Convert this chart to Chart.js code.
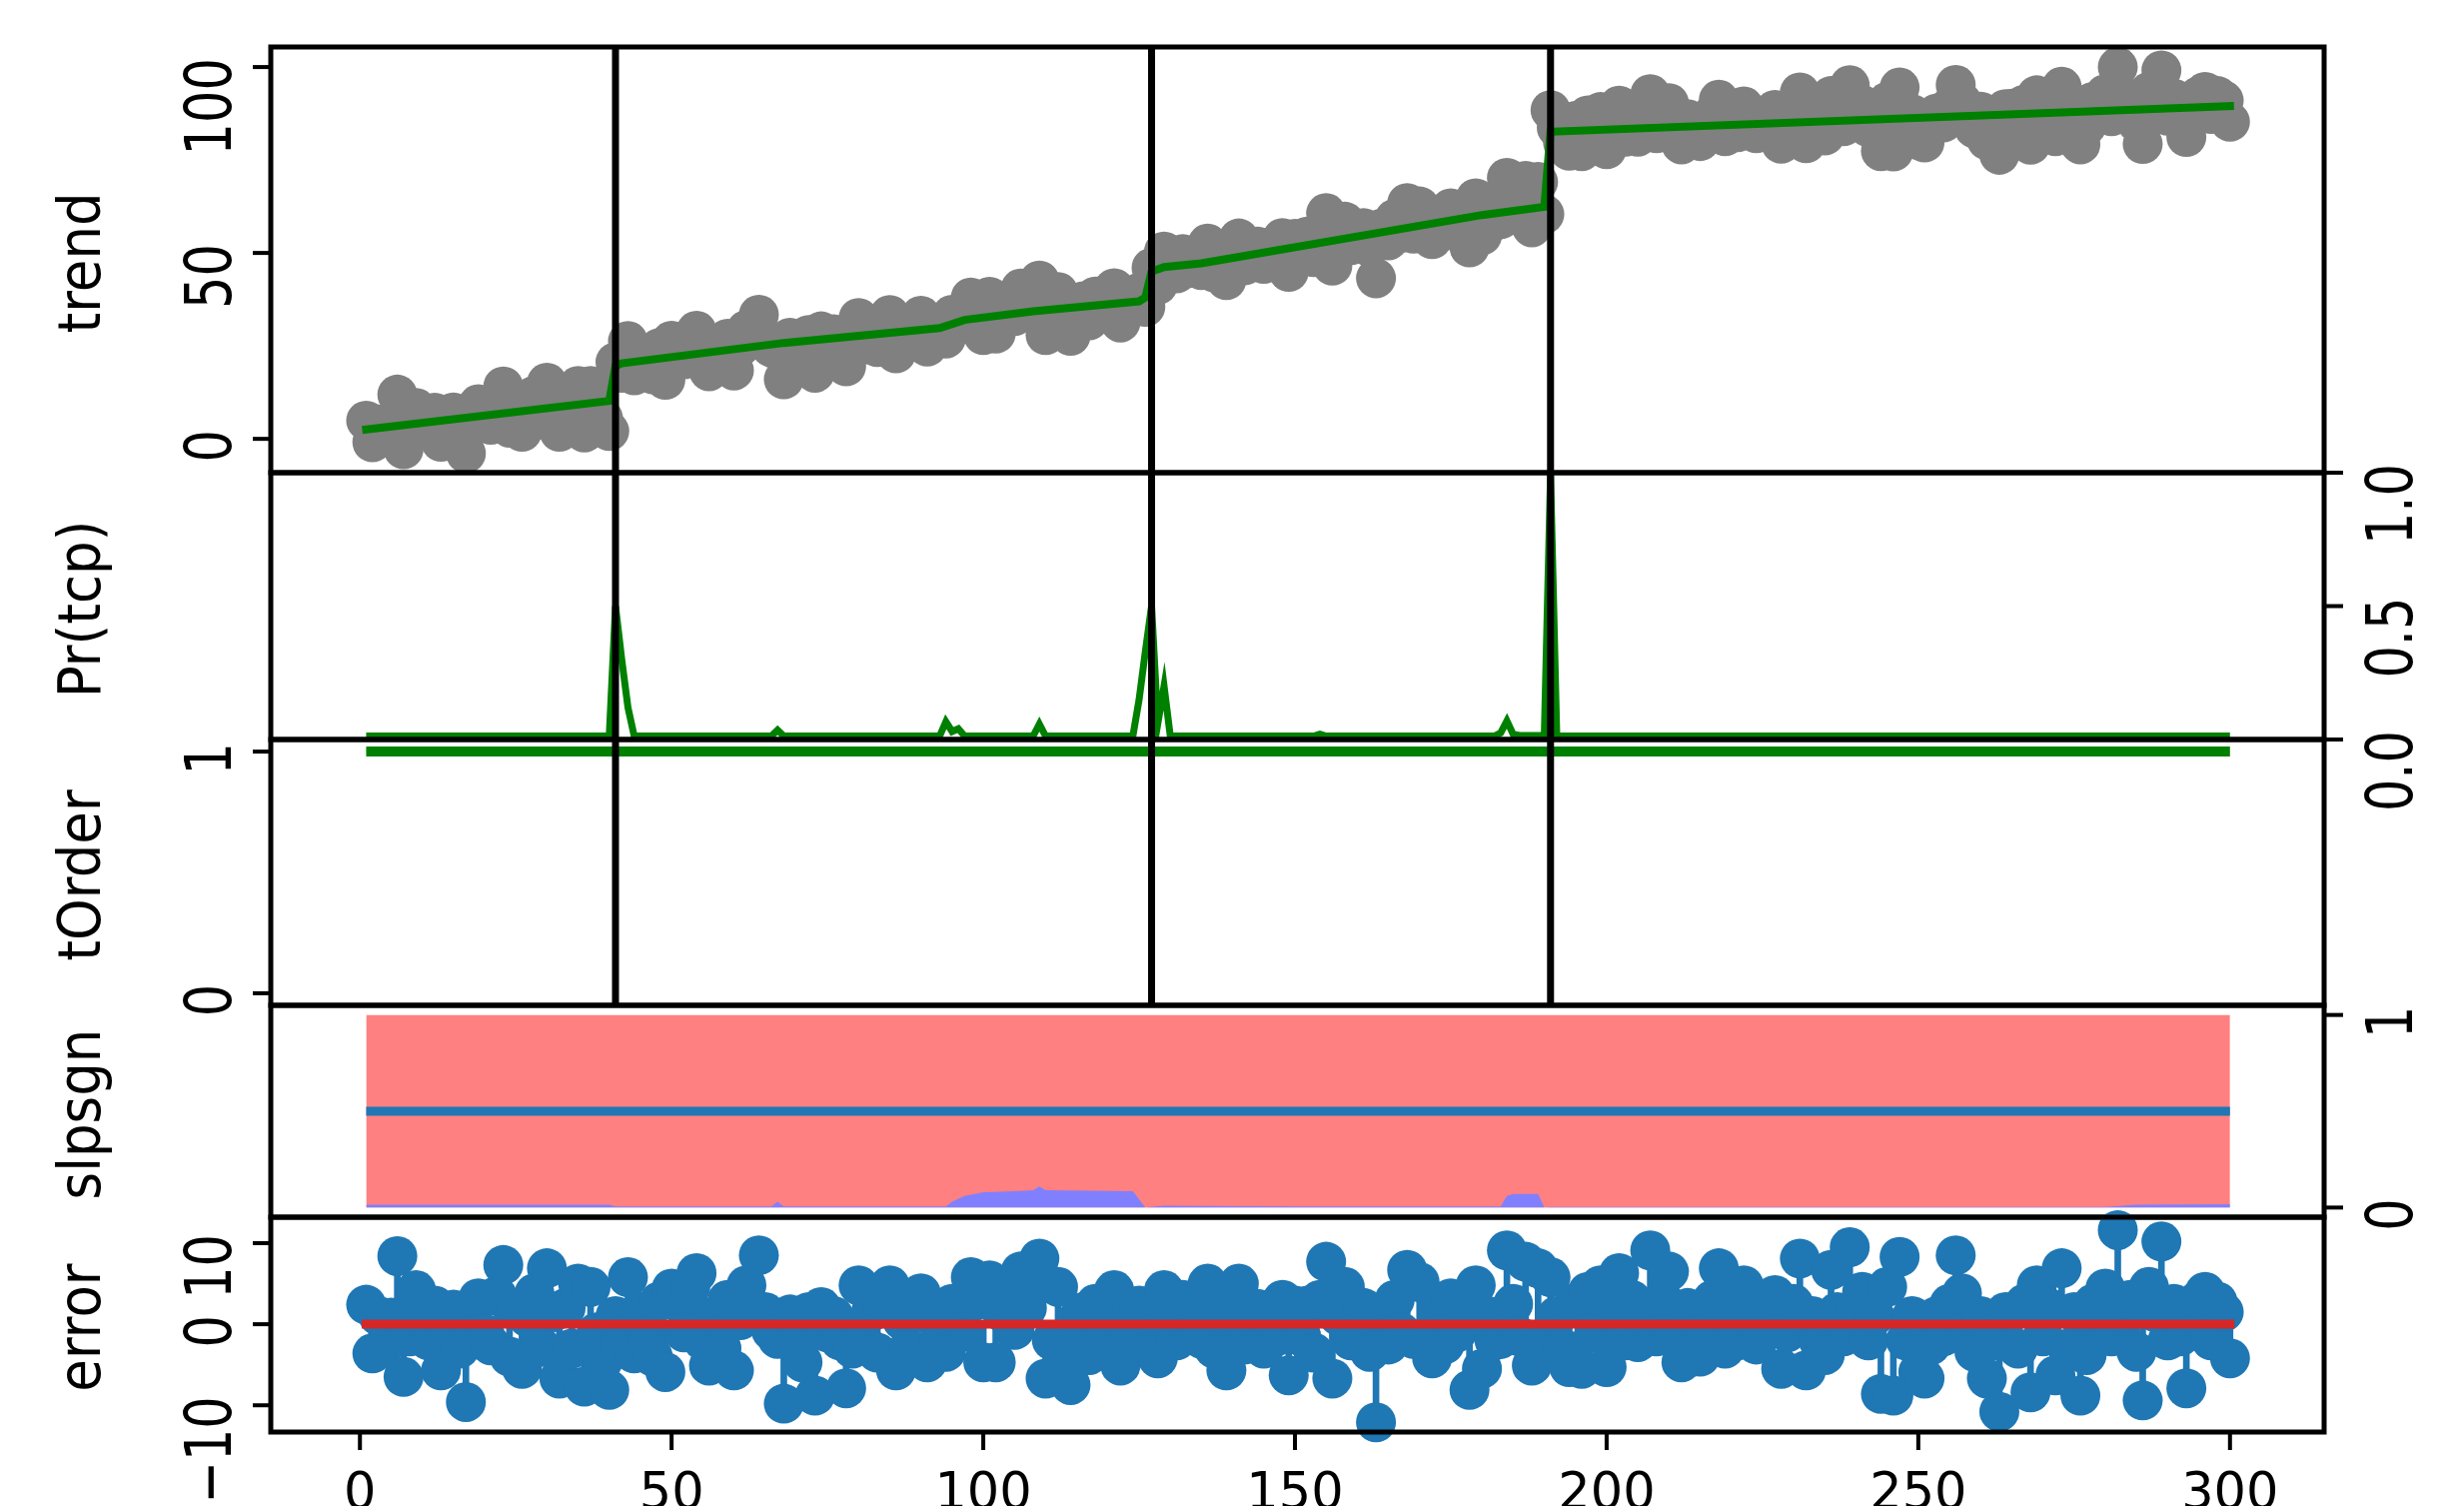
<!DOCTYPE html>
<html>
<head>
<meta charset="utf-8">
<script src="https://cdn.jsdelivr.net/npm/chart.js@4.4.1/dist/chart.umd.min.js"></script>
<style>
  body { margin: 0; background: #fff; }
  #wrap { position: relative; width: 2466px; height: 1507px; overflow: hidden; }
  #wrap canvas { position: absolute; left: 0; top: 0; }
</style>
</head>
<body>
<div id="wrap">
  <canvas id="p1" width="2466" height="1507"></canvas>
  <canvas id="p2" width="2466" height="1507"></canvas>
  <canvas id="p3" width="2466" height="1507"></canvas>
  <canvas id="p4" width="2466" height="1507"></canvas>
  <canvas id="p5" width="2466" height="1507"></canvas>
</div>
<script>
// --- data ---
const times = Array.from({ length: 300 }, (_, i) => i + 1);

// observed series (grey dots, top panel)
const dataVals = [4.9,-0.9,3.9,0.6,4.1,11.9,-2.8,2.4,8.3,5.8,
  2.5,7.0,-0.8,4.3,7.1,2.5,-3.9,6.4,9.3,5.1,
  3.8,10.1,14.1,3.0,9.2,1.9,8.4,11.6,5.2,15.1,
  9.9,1.9,10.8,6.0,14.2,1.7,14.2,8.8,5.5,2.1,
  20.6,17.8,26.3,17.1,22.4,19.6,17.4,24.4,15.9,26.4,
  25.7,21.4,27.1,29.1,21.0,18.2,24.5,20.7,26.9,18.4,
  24.8,29.3,26.7,33.4,26.7,24.6,23.8,16.0,27.2,23.6,
  21.6,27.9,17.8,28.9,25.9,28.1,25.2,19.5,24.6,32.5,
  25.4,29.5,24.7,30.4,33.3,23.0,29.3,26.0,30.7,33.1,
  24.8,30.4,27.8,27.0,33.4,32.5,31.1,38.0,35.4,27.9,
  38.2,28.3,34.8,36.5,33.0,40.4,36.1,38.8,42.6,27.9,
  32.8,39.5,32.1,27.7,35.9,37.0,31.9,38.3,34.5,39.1,
  40.5,31.3,35.6,38.6,39.3,35.5,46.0,41.4,50.4,46.7,
  44.5,49.7,45.9,49.5,45.4,52.5,44.8,49.1,42.7,50.6,
  53.9,46.7,50.3,51.7,47.1,51.5,49.2,54.0,44.9,53.8,
  50.3,54.4,48.9,55.7,60.7,46.6,54.6,58.4,52.1,54.9,
  56.7,51.6,43.2,56.6,53.4,59.2,55.4,63.4,55.2,62.5,
  55.6,53.7,59.7,56.0,62.0,58.0,61.3,51.5,64.7,54.7,
  61.4,58.6,59.1,70.2,63.8,60.0,69.4,56.9,69.1,60.4,
  88.4,83.7,79.7,77.5,85.5,77.4,87.0,82.0,87.9,77.9,
  84.7,89.6,81.3,86.4,81.3,84.5,92.7,82.2,86.7,90.3,
  82.9,79.2,86.0,84.8,80.1,83.2,87.2,91.2,81.4,85.9,
  82.5,89.4,85.6,82.2,83.9,86.8,88.5,79.4,84.0,87.6,
  93.2,79.5,86.3,83.3,81.6,92.2,87.0,84.1,95.1,87.7,
  89.8,83.8,86.9,77.4,90.6,77.3,94.5,84.2,87.3,80.4,
  79.7,83.9,87.5,85.1,89.2,95.2,90.6,85.9,83.5,88.0,
  80.3,85.1,76.4,88.7,88.8,84.4,89.9,79.1,92.4,86.1,
  89.7,81.4,94.7,84.9,89.4,79.2,84.3,90.6,88.7,92.7,
  86.8,100.0,89.5,91.5,85.2,79.3,93.3,90.3,99.1,86.9,
  91.5,87.5,81.2,90.2,92.2,93.3,87.4,92.2,91.0,85.3];

// fitted trend (green line vertices)
const fitX = [1, 40, 41, 42, 68, 93, 97, 108, 125, 126, 127, 129, 135, 180, 190, 191, 300];
const fitY = [2.5, 10.2, 19.6, 20.3, 25.8, 29.8, 32.0, 34.3, 37.0, 38.0, 45.0, 46.2, 47.2, 60.2, 62.4, 82.6, 89.5];

// detected change points
const cpTimes = [41, 127, 191];

// probability of a trend change point
const prX = [1, 40, 41, 42, 43, 44, 66, 67, 68, 93, 94, 95, 96, 97, 108, 109, 110,
  124, 125, 126, 127, 128, 129, 130, 153, 154, 155, 182, 183, 184, 185, 186, 190, 191, 192, 300];
const prY = [0.013, 0.013, 0.5, 0.3, 0.12, 0.013, 0.013, 0.035, 0.013, 0.013, 0.067, 0.03, 0.04, 0.013, 0.013, 0.058, 0.013,
  0.013, 0.15, 0.33, 0.5, 0.06, 0.2, 0.013, 0.013, 0.02, 0.013, 0.013, 0.025, 0.07, 0.02, 0.015, 0.015, 0.99, 0.013, 0.013];

// trend order
const orderX = [1, 300];
const orderY = [1, 1];

// slope sign probabilities
const slpPosX = [1, 300];
const slpPosY = [1, 1];
const slpNegX = [1, 40, 41, 66, 67, 68, 94, 95, 97, 100, 105, 108, 109, 110, 124, 126, 129, 150, 183, 184, 185, 189, 190, 191, 280, 285, 300];
const slpNegY = [0.015, 0.015, 0.006, 0.006, 0.03, 0.006, 0.006, 0.03, 0.06, 0.08, 0.085, 0.09, 0.11, 0.09, 0.085, 0.0, 0.01, 0.006, 0.006, 0.06, 0.07, 0.07, 0.0, 0.003, 0.003, 0.015, 0.018];
const slpLineX = [1, 300];
const slpLineY = [0.5, 0.5];

// residuals
const errVals = [2.4,-3.6,1.0,-2.5,0.8,8.4,-6.5,-1.5,4.2,1.5,
  -2.0,2.3,-5.7,-0.8,1.8,-3.0,-9.6,0.5,3.2,-1.2,
  -2.6,3.5,7.3,-4.0,2.0,-5.5,0.8,3.8,-2.8,6.9,
  1.5,-6.7,2.0,-3.0,5.0,-7.7,4.6,-1.0,-4.5,-8.1,
  1.0,-2.5,5.8,-3.6,1.5,-1.5,-4.0,2.8,-5.9,4.4,
  3.5,-1.0,4.5,6.3,-2.0,-5.1,1.0,-3.0,3.0,-5.7,
  0.5,4.8,2.0,8.5,1.5,-0.8,-1.8,-9.8,1.2,-2.5,
  -4.7,1.5,-8.8,2.1,-1.0,1.0,-2.0,-7.9,-3.0,4.8,
  -2.5,1.5,-3.5,2.0,4.8,-5.7,0.5,-3.0,1.5,3.8,
  -4.7,0.8,-2.0,-3.4,2.5,1.0,-0.9,5.8,3.0,-4.7,
  5.4,-4.7,1.5,3.0,-0.7,6.5,2.0,4.5,8.1,-6.7,
  -2.0,4.6,-3.0,-7.5,0.5,1.5,-3.8,2.5,-1.5,3.0,
  4.2,-5.1,-1.0,1.8,2.3,-2.5,1.0,-4.2,4.2,0.3,
  -2.0,3.0,-1.0,2.5,-1.8,5.0,-3.0,1.0,-5.7,2.0,
  5.0,-2.5,0.8,1.9,-3.0,1.1,-1.5,3.0,-6.3,2.3,
  -1.5,2.3,-3.5,3.0,7.7,-6.7,1.0,4.6,-2.0,0.5,
  2.0,-3.4,-12.1,1.0,-2.5,3.0,-1.0,6.7,-1.8,5.2,
  -2.0,-4.2,1.5,-2.5,3.2,-1.0,2.0,-8.1,4.8,-5.5,
  1.0,-2.0,-1.8,9.1,2.5,-1.5,7.7,-5.1,6.9,-2.0,
  5.8,1.0,-3.0,-5.3,2.6,-5.5,4.0,-1.0,4.8,-5.3,
  1.5,6.3,-2.0,3.0,-2.2,1.0,9.1,-1.5,3.0,6.5,
  -1.0,-4.7,2.0,0.7,-4.0,-1.0,3.0,6.9,-3.0,1.5,
  -2.0,4.8,1.0,-2.5,-0.9,2.0,3.6,-5.5,-1.0,2.5,
  8.1,-5.7,1.0,-2.0,-3.8,6.7,1.5,-1.5,9.5,2.0,
  4.0,-2.0,1.0,-8.6,4.6,-8.8,8.3,-2.0,1.0,-5.9,
  -6.7,-2.6,1.0,-1.5,2.5,8.5,3.8,-1.0,-3.4,1.0,
  -6.7,-2.0,-10.8,1.5,1.5,-3.0,2.5,-8.4,4.8,-1.5,
  2.0,-6.3,6.9,-3.0,1.5,-8.8,-3.8,2.5,0.5,4.4,
  -1.5,11.6,1.0,3.0,-3.4,-9.4,4.6,1.5,10.2,-2.0,
  2.5,-1.5,-7.9,1.0,3.0,4.0,-2.0,2.8,1.5,-4.2];
const zeroX = [1, 300];
const zeroY = [0, 0];

// axis ticks
const xTickVals = [0, 50, 100, 150, 200, 250, 300];
const trendTicks = [0, 50, 100];
const prTicks = [0, 0.5, 1];
const prTickLabels = ['0.0', '0.5', '1.0'];
const orderTicks = [0, 1];
const slpTicks = [0, 1];
const errTicks = [-10, 0, 10];
const errTickLabels = ['\u221210', '0', '10'];

// --- layout (page pixels) ---
const PLOT_LEFT = 271, PLOT_RIGHT = 2326, W = 2466, H = 1507;
const X_MIN = -14.3, X_MAX = 315.1;
const FONT = '"DejaVu Sans"';

const pts = (xs, ys) => xs.map((x, i) => ({ x: x, y: ys[i] }));

// rotated (bottom-to-top) text, optionally stretched across the baseline
function rotText(ctx, txt, x, y, size, stretch, align) {
  ctx.save();
  ctx.translate(x, y);
  ctx.rotate(-Math.PI / 2);
  ctx.scale(1, stretch);
  ctx.font = size + 'px ' + FONT;
  ctx.fillStyle = '#000';
  ctx.textAlign = align;
  ctx.textBaseline = 'alphabetic';
  ctx.fillText(txt, 0, 0);
  ctx.restore();
}

const panelDeco = {
  id: 'panelDeco',
  afterDraw(chart, args, o) {
    const ctx = chart.ctx, a = chart.chartArea;
    const xs = chart.scales.x, ys = chart.scales.y;
    ctx.save();
    ctx.strokeStyle = '#000';

    // change point markers
    if (o.cps) {
      ctx.lineWidth = 7;
      cpTimes.forEach(t => {
        const px = xs.getPixelForValue(t);
        ctx.beginPath(); ctx.moveTo(px, a.top); ctx.lineTo(px, a.bottom); ctx.stroke();
      });
    }

    // frame
    ctx.lineWidth = 5;
    ctx.strokeRect(a.left, a.top, a.right - a.left, a.bottom - a.top);

    // y ticks + labels
    ctx.lineWidth = 4;
    o.yTicks.forEach((v, i) => {
      const py = ys.getPixelForValue(v);
      const lab = o.yLabels ? o.yLabels[i] : String(v);
      ctx.beginPath();
      if (o.side === 'left') {
        ctx.moveTo(a.left, py); ctx.lineTo(a.left - 18, py); ctx.stroke();
        rotText(ctx, lab, 231, py - 9, 51, 1.25, 'right');
      } else {
        ctx.moveTo(a.right, py); ctx.lineTo(a.right + 19, py); ctx.stroke();
        rotText(ctx, lab, 2414, py - 9, 51, 1.25, 'right');
      }
    });

    // axis title
    rotText(ctx, o.title, 100, (a.top + a.bottom) / 2 + 3, 53, 1.1, 'center');

    // bottom x ticks
    if (o.xTicks) {
      ctx.font = '51px ' + FONT;
      ctx.fillStyle = '#000';
      ctx.textAlign = 'center';
      ctx.textBaseline = 'alphabetic';
      xTickVals.forEach(v => {
        const px = xs.getPixelForValue(v);
        ctx.beginPath(); ctx.moveTo(px, a.bottom); ctx.lineTo(px, a.bottom + 18); ctx.stroke();
        ctx.fillText(String(v), px, a.bottom + 77);
      });
    }
    ctx.restore();
  }
};

function makePanel(id, top, bottom, yMin, yMax, datasets, deco) {
  return new Chart(document.getElementById(id), {
    type: 'scatter',
    data: { datasets: datasets },
    options: {
      responsive: false,
      animation: false,
      devicePixelRatio: 1,
      events: [],
      layout: { padding: { left: PLOT_LEFT, right: W - PLOT_RIGHT, top: top, bottom: H - bottom } },
      scales: {
        x: { type: 'linear', display: false, min: X_MIN, max: X_MAX, offset: false },
        y: { type: 'linear', display: false, min: yMin, max: yMax }
      },
      plugins: { legend: { display: false }, tooltip: { enabled: false }, panelDeco: deco }
    },
    plugins: [panelDeco]
  });
}

// 1. trend
makePanel('p1', 47, 473, -9.1, 105.4, [
  { type: 'line', data: pts(fitX, fitY), borderColor: '#008000', borderWidth: 8,
    pointRadius: 0, borderCapStyle: 'square', order: 0 },
  { data: pts(times, dataVals), backgroundColor: '#808080', borderWidth: 0,
    pointRadius: 20, clip: false, order: 1 }
], { side: 'left', yTicks: trendTicks, title: 'trend', cps: true });

// 2. Pr(tcp)
makePanel('p2', 473, 740, 0, 1, [
  { type: 'line', data: pts(prX, prY), borderColor: '#008000', borderWidth: 7,
    pointRadius: 0, borderJoinStyle: 'miter' }
], { side: 'right', yTicks: prTicks, yLabels: prTickLabels, title: 'Pr(tcp)', cps: true });

// 3. tOrder
makePanel('p3', 740, 1006, -0.05, 1.05, [
  { type: 'line', data: pts(orderX, orderY), borderColor: '#008000', borderWidth: 10, pointRadius: 0 }
], { side: 'left', yTicks: orderTicks, title: 'tOrder', cps: true });

// 4. slpsgn
makePanel('p4', 1006, 1218, -0.05, 1.05, [
  { type: 'line', data: pts(slpLineX, slpLineY), borderColor: '#1f77b4', borderWidth: 9,
    pointRadius: 0, order: 0 },
  { type: 'line', data: pts(slpNegX, slpNegY), borderWidth: 0, pointRadius: 0,
    fill: 'origin', backgroundColor: '#8080ff', order: 1 },
  { type: 'line', data: pts(slpPosX, slpPosY), borderWidth: 0, pointRadius: 0,
    fill: 'origin', backgroundColor: '#ff8080', order: 2 }
], { side: 'right', yTicks: slpTicks, title: 'slpsgn', cps: false });

// 5. error
makePanel('p5', 1218, 1433, -13.3, 13.2, [
  { type: 'line', data: pts(zeroX, zeroY), borderColor: '#d62728', borderWidth: 9,
    pointRadius: 0, borderCapStyle: 'square', order: 0 },
  { data: pts(times, errVals), backgroundColor: '#1f77b4', borderWidth: 0,
    pointRadius: 20, clip: false, order: 1 },
  { type: 'bar', data: pts(times, errVals), backgroundColor: '#1f77b4',
    barThickness: 6, clip: false, order: 2 }
], { side: 'left', yTicks: errTicks, yLabels: errTickLabels, title: 'error', cps: false, xTicks: true });
</script>
</body>
</html>
